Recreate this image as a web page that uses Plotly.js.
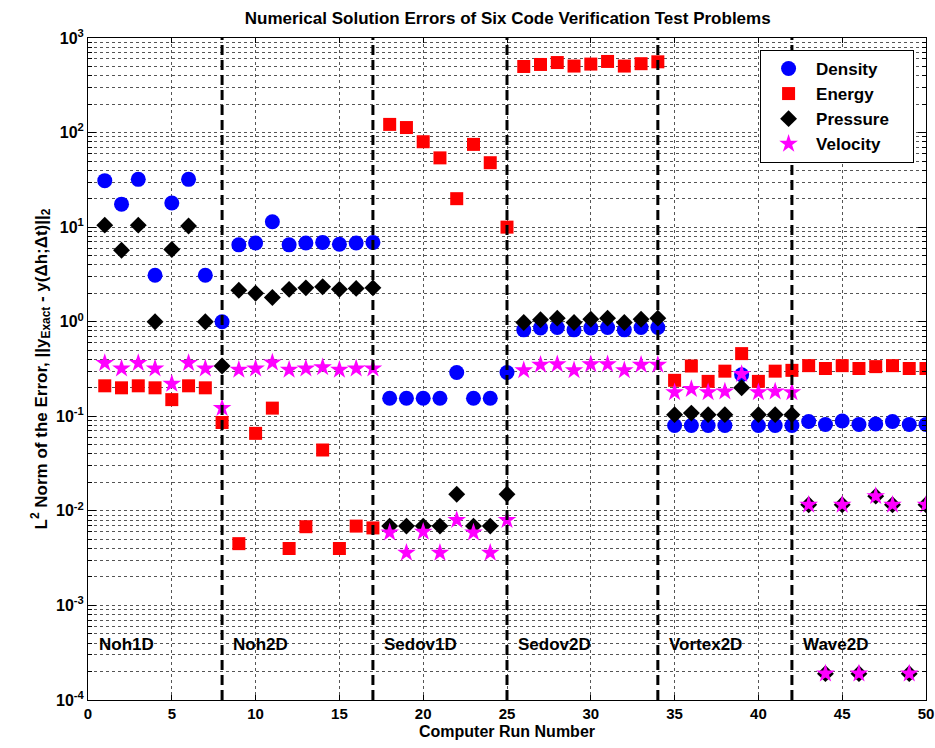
<!DOCTYPE html>
<html>
<head>
<meta charset="utf-8">
<script src="https://cdn.plot.ly/plotly-3.0.1.min.js"></script>
<style>html,body{margin:0;padding:0;background:#fff;}#chart{width:935px;height:748px;}</style>
</head>
<body>
<div id="chart"></div>
<script>
var runs = [];
for (var i = 1; i <= 50; i++) runs.push(i);

var density = [31, 17.5, 32, 3.1, 18, 32, 3.1, 1.0,
  6.5, 6.8, 11.4, 6.5, 6.8, 6.9, 6.6, 6.8, 6.9,
  0.155, 0.155, 0.155, 0.155, 0.29, 0.155, 0.155, 0.29,
  0.82, 0.86, 0.87, 0.82, 0.86, 0.87, 0.82, 0.87, 0.87,
  0.08, 0.08, 0.08, 0.08, 0.275, 0.08, 0.08, 0.08,
  0.088, 0.082, 0.089, 0.082, 0.083, 0.088, 0.082, 0.082];

var energy = [0.21, 0.2, 0.21, 0.2, 0.15, 0.21, 0.2, 0.086,
  0.0045, 0.066, 0.122, 0.004, 0.0068, 0.044, 0.004, 0.0069, 0.0066,
  122, 113, 80, 54, 20, 75, 48, 10,
  500, 525, 550, 505, 530, 565, 505, 535, 560,
  0.24, 0.34, 0.234, 0.30, 0.46, 0.234, 0.30, 0.306,
  0.343, 0.32, 0.343, 0.32, 0.335, 0.343, 0.32, 0.32];

var pressure = [10.5, 5.7, 10.5, 1.0, 5.8, 10.3, 1.0, 0.34,
  2.15, 2.0, 1.8, 2.2, 2.28, 2.34, 2.2, 2.25, 2.28,
  0.0069, 0.0069, 0.0069, 0.0069, 0.015, 0.0069, 0.0069, 0.015,
  0.98, 1.05, 1.09, 0.98, 1.06, 1.09, 0.98, 1.06, 1.09,
  0.104, 0.108, 0.104, 0.104, 0.20, 0.104, 0.104, 0.104,
  0.0116, 0.00019, 0.0116, 0.00019, 0.0143, 0.0116, 0.00019, 0.0116];

var velocity = [0.366, 0.32, 0.366, 0.32, 0.22, 0.366, 0.32, 0.122,
  0.31, 0.32, 0.37, 0.31, 0.32, 0.33, 0.31, 0.32, 0.32,
  0.0059, 0.0036, 0.006, 0.0036, 0.008, 0.0059, 0.0036, 0.008,
  0.306, 0.35, 0.355, 0.306, 0.355, 0.355, 0.306, 0.35, 0.35,
  0.179, 0.194, 0.179, 0.183, 0.28, 0.179, 0.183, 0.179,
  0.0116, 0.00019, 0.0116, 0.00019, 0.0143, 0.0116, 0.00019, 0.0116];

var seriesNames = ['Density', 'Energy', 'Pressure', 'Velocity'];
var problemNames = ['Noh1D', 'Noh2D', 'Sedov1D', 'Sedov2D', 'Vortex2D', 'Wave2D'];
var problemStarts = [0, 8, 17, 25, 34, 42];
var dividers = [8, 17, 25, 34, 42];
var xTicks = [0, 5, 10, 15, 20, 25, 30, 35, 40, 45, 50];
var yTickVals = [1e-4, 1e-3, 1e-2, 1e-1, 1, 10, 100, 1000];
var yTickText = ['10<sup>-4</sup>', '10<sup>-3</sup>', '10<sup>-2</sup>', '10<sup>-1</sup>',
                 '10<sup>0</sup>', '10<sup>1</sup>', '10<sup>2</sup>', '10<sup>3</sup>'];

var FONT = 'Liberation Sans, Arial, sans-serif';
var GRID = '#555';
var PAD = '\u00a0\u00a0\u00a0\u00a0';

var traces = [
  {x: runs, y: density, name: '<b>' + seriesNames[0] + '</b>' + PAD, mode: 'markers', type: 'scatter',
   marker: {symbol: 'circle', size: 15, color: '#0000ff', line: {width: 0}}},
  {x: runs, y: energy, name: '<b>' + seriesNames[1] + '</b>' + PAD, mode: 'markers', type: 'scatter',
   marker: {symbol: 'square', size: 13, color: '#ff0000', line: {width: 0}}},
  {x: runs, y: pressure, name: '<b>' + seriesNames[2] + '</b>' + PAD, mode: 'markers', type: 'scatter',
   marker: {symbol: 'diamond', size: 13, color: '#000000', line: {width: 0}}},
  {x: runs, y: velocity, name: '<b>' + seriesNames[3] + '</b>' + PAD, mode: 'markers', type: 'scatter',
   marker: {symbol: 'star', size: 14, color: '#ff00ff', line: {width: 0}}}
];

var shapes = dividers.map(function (d) {
  return {type: 'line', xref: 'x', yref: 'paper', x0: d, x1: d, y0: 0, y1: 1,
          line: {color: '#000', width: 3, dash: '10px,5px'}};
});

var annotations = problemNames.map(function (n, i) {
  return {text: '<b>' + n + '</b>', x: problemStarts[i] + 0.55, y: -3.41,
          xref: 'x', yref: 'y', xanchor: 'left', yanchor: 'middle', showarrow: false,
          font: {family: FONT, size: 17, color: '#000'}};
});

var layout = {
  width: 935, height: 748,
  margin: {l: 88, r: 9, t: 38, b: 48},
  paper_bgcolor: '#fff', plot_bgcolor: '#fff',
  showlegend: true,
  title: {text: '<b>Numerical Solution Errors of Six Code Verification Test Problems</b>',
          x: 0.543, xanchor: 'center', y: 0.976, yanchor: 'middle',
          font: {family: FONT, size: 17, color: '#000'}},
  xaxis: {
    range: [0, 50], tickvals: xTicks, ticktext: xTicks.map(function (v) { return '<b>' + v + '</b>'; }),
    ticks: 'inside', ticklen: 5, tickcolor: '#000', ticklabeloverflow: 'allow',
    showline: true, mirror: 'ticks', linecolor: '#000', linewidth: 1,
    showgrid: true, gridcolor: GRID, griddash: 'dot', gridwidth: 1,
    zeroline: false,
    tickfont: {family: FONT, size: 15, color: '#000'},
    title: {text: '<b>Computer Run Number</b>', standoff: 4,
            font: {family: FONT, size: 16, color: '#000'}}
  },
  yaxis: {
    type: 'log', range: [-4, 3], tickvals: yTickVals, ticktext: yTickText.map(function (t) { return '<b>' + t + '</b>'; }),
    ticks: 'inside', ticklen: 8, tickcolor: '#000', ticklabeloverflow: 'allow',
    showline: true, mirror: 'ticks', linecolor: '#000', linewidth: 1,
    showgrid: true, gridcolor: GRID, griddash: 'dot', gridwidth: 1,
    zeroline: false,
    minor: {dtick: 'D1', ticks: 'inside', ticklen: 4, tickcolor: '#000',
            showgrid: true, gridcolor: GRID, griddash: 'dot', gridwidth: 1},
    tickfont: {family: FONT, size: 16, color: '#000'},
    title: {text: '<b>L<sup>2</sup> Norm of the Error, ||y<sub>Exact</sub> - y(\u0394h;\u0394t)||<sub>2</sub></b>',
            standoff: 4, font: {family: FONT, size: 17, color: '#000'}}
  },
  legend: {x: 0.802, y: 0.982, xanchor: 'left', yanchor: 'top',
           bgcolor: '#fff', bordercolor: '#000', borderwidth: 1,
           itemwidth: 45,
           font: {family: FONT, size: 17, color: '#000'}, tracegroupgap: 0},
  shapes: shapes,
  annotations: annotations
};

Plotly.newPlot('chart', traces, layout, {displayModeBar: false, staticPlot: true});
</script>
</body>
</html>
